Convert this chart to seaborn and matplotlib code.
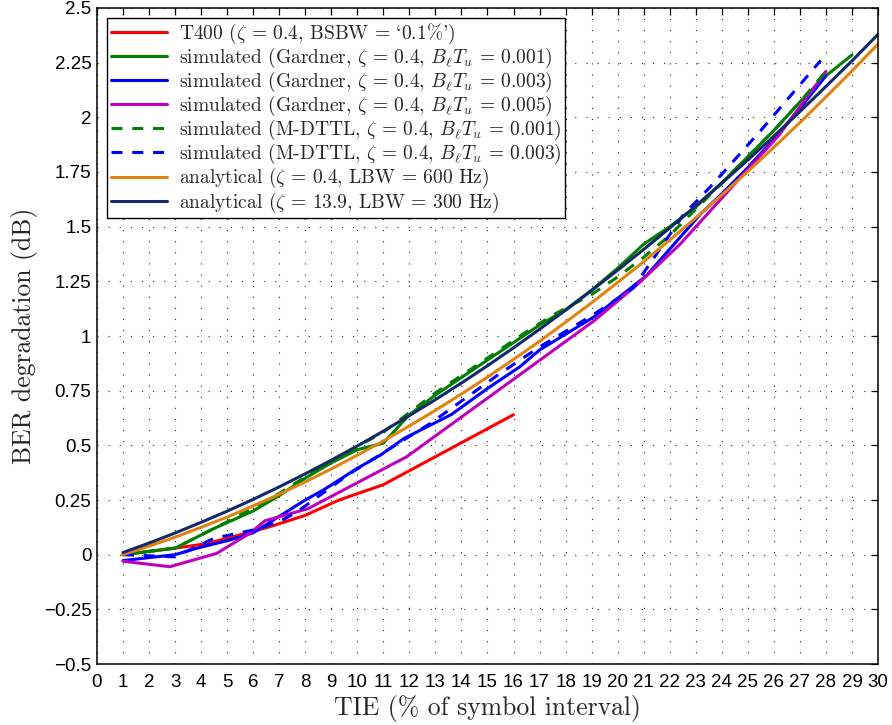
import numpy as np
import pandas as pd
import matplotlib
matplotlib.use("Agg")
import matplotlib.pyplot as plt
import seaborn as sns

# ---------------- data ----------------
t400_x = [1, 3, 4.2, 5.8, 6.7, 8, 9.3, 11, 16]
t400_y = [0.0, 0.03, 0.05, 0.10, 0.13, 0.18, 0.25, 0.32, 0.64]

g001_x = [1, 3, 4.5, 6, 7, 8, 9, 10, 11, 12, 13, 14, 15, 16, 17, 18, 19, 20, 21, 22, 23, 24, 25, 26, 27, 28, 29]
g001_y = [0.0, 0.03, 0.12, 0.20, 0.27, 0.35, 0.42, 0.48, 0.51, 0.64, 0.73, 0.81, 0.89, 0.97, 1.05, 1.12, 1.21,
          1.31, 1.42, 1.50, 1.59, 1.70, 1.82, 1.94, 2.07, 2.19, 2.285]

g003_x = [1, 3, 3.85, 5.1, 6, 8, 8.7, 10, 10.9, 11.8, 13.6, 15, 16.25, 17, 19.1, 21.1, 23.2, 24, 25, 26, 27, 28]
g003_y = [-0.027, 0.0, 0.03, 0.067, 0.10, 0.25, 0.296, 0.395, 0.456, 0.532, 0.64, 0.76, 0.86, 0.936, 1.088,
          1.275, 1.56, 1.65, 1.77, 1.90, 2.04, 2.19]

g005_x = [1, 2.8, 4.6, 5.9, 6.45, 8.1, 11.9, 19.1, 20.8, 22.4, 24.4, 26.2, 28]
g005_y = [-0.03, -0.055, 0.006, 0.10, 0.155, 0.21, 0.448, 1.07, 1.24, 1.42, 1.683, 1.919, 2.21]

m001_x = [1, 3, 5, 7, 9, 11, 13, 14.7, 16.25, 17.5, 19, 20, 21, 22, 23, 24, 25, 26, 27, 28]
m001_y = [0.0, 0.03, 0.15, 0.28, 0.43, 0.56, 0.74, 0.875, 1.0, 1.095, 1.19, 1.27, 1.36, 1.46, 1.58, 1.70,
          1.82, 1.94, 2.07, 2.21]

m003_x = [1, 3, 4.5, 6, 7, 7.7, 9.7, 12.8, 15.5, 17, 19.1, 20.6, 22.5, 23.7, 25.5, 27.8]
m003_y = [0.0, -0.01, 0.075, 0.113, 0.15, 0.197, 0.37, 0.60, 0.83, 0.95, 1.10, 1.22, 1.55, 1.70, 1.94, 2.26]

an04_x = list(range(1, 31))
an04_y = [0.0, 0.039, 0.080, 0.125, 0.172, 0.223, 0.276, 0.333, 0.392, 0.455, 0.520, 0.589, 0.660, 0.735,
          0.812, 0.893, 0.976, 1.063, 1.152, 1.245, 1.340, 1.439, 1.540, 1.645, 1.752, 1.863, 1.976, 2.093,
          2.212, 2.335]

an139_x = list(range(1, 31))
an139_y = [0.010, 0.053, 0.099, 0.148, 0.199, 0.253, 0.310, 0.370, 0.432, 0.497, 0.565, 0.636, 0.709, 0.785,
           0.864, 0.946, 1.031, 1.118, 1.208, 1.301, 1.396, 1.494, 1.595, 1.699, 1.805, 1.914, 2.026, 2.141,
           2.258, 2.379]

# in cmr10 (TeX encoding) ` and ' are drawn as the curly quotes ‘ ’
labels = [
    r"T400 ($\zeta$ = 0.4, BSBW = `0.1%')",
    r"simulated (Gardner, $\zeta$ = 0.4, $B_\ell T_u$ = 0.001)",
    r"simulated (Gardner, $\zeta$ = 0.4, $B_\ell T_u$ = 0.003)",
    r"simulated (Gardner, $\zeta$ = 0.4, $B_\ell T_u$ = 0.005)",
    r"simulated (M-DTTL, $\zeta$ = 0.4, $B_\ell T_u$ = 0.001)",
    r"simulated (M-DTTL, $\zeta$ = 0.4, $B_\ell T_u$ = 0.003)",
    r"analytical ($\zeta$ = 0.4, LBW = 600 Hz)",
    r"analytical ($\zeta$ = 13.9, LBW = 300 Hz)",
]
xticks = list(range(0, 31))
yticks = [-0.5, -0.25, 0, 0.25, 0.5, 0.75, 1, 1.25, 1.5, 1.75, 2, 2.25, 2.5]
ytick_labels = ["−0.5", "−0.25", "0", "0.25", "0.5", "0.75", "1", "1.25", "1.5", "1.75", "2", "2.25", "2.5"]

series = [
    (t400_x, t400_y, "#FF0000", False),
    (g001_x, g001_y, "#008000", False),
    (g003_x, g003_y, "#0000FF", False),
    (g005_x, g005_y, "#BF00BF", False),
    (m001_x, m001_y, "#008000", True),
    (m003_x, m003_y, "#0000FF", True),
    (an04_x, an04_y, "#DF8411", False),
    (an139_x, an139_y, "#14296A", False),
]

# ---------------- style ----------------
sns.set_style("white")
plt.rcParams["mathtext.fontset"] = "cm"
plt.rcParams["axes.unicode_minus"] = True
serif = ["cmr10", "DejaVu Serif"]
tickfont = ["Liberation Sans", "DejaVu Sans"]

fig, ax = plt.subplots(figsize=(8.92, 7.25), dpi=100)
fig.subplots_adjust(left=0.1087, right=0.9843, top=0.989, bottom=0.0841)

handles = []
for (xs, ys, col, dashed), lab in zip(series, labels):
    df = pd.DataFrame({"x": xs, "y": ys})
    n_before = len(ax.lines)
    sns.lineplot(data=df, x="x", y="y", ax=ax, color=col, linewidth=2.2,
                 sort=False, estimator=None, legend=False)
    line = ax.lines[n_before]
    if dashed:
        line.set_dashes((3.6, 3.2))
    line.set_label(lab)
    handles.append(line)

ax.set_xlim(0, 30)
ax.set_ylim(-0.5, 2.5)
ax.set_xticks(xticks)
ax.set_xticklabels([str(v) for v in xticks])
ax.set_yticks(yticks)
ax.set_yticklabels(ytick_labels)
for lbl in ax.get_xticklabels() + ax.get_yticklabels():
    lbl.set_fontfamily(tickfont)
    lbl.set_fontsize(13.5)
ax.tick_params(direction="in", top=True, right=True, length=5, width=0.9, colors="k", pad=4)
ax.tick_params(axis="x", pad=7)

ax.grid(True, linestyle=(0, (1, 9)), color="k", linewidth=0.8, alpha=0.85)
for sp in ax.spines.values():
    sp.set_color("k")
    sp.set_linewidth(1.1)

ax.set_xlabel("TIE (% of symbol interval)", fontsize=18.5, family=serif, labelpad=3)
ax.set_ylabel("BER degradation (dB)", fontsize=18.5, family=serif, labelpad=4)

leg = ax.legend(handles=handles, loc="upper left", prop={"family": serif, "size": 14},
                frameon=True, fancybox=False, framealpha=1, edgecolor="k",
                borderaxespad=0.5, borderpad=0.2, labelspacing=0.0,
                handlelength=2.9, handletextpad=0.6)
leg.get_frame().set_linewidth(1.0)

fig.savefig("out.png", dpi=100)
